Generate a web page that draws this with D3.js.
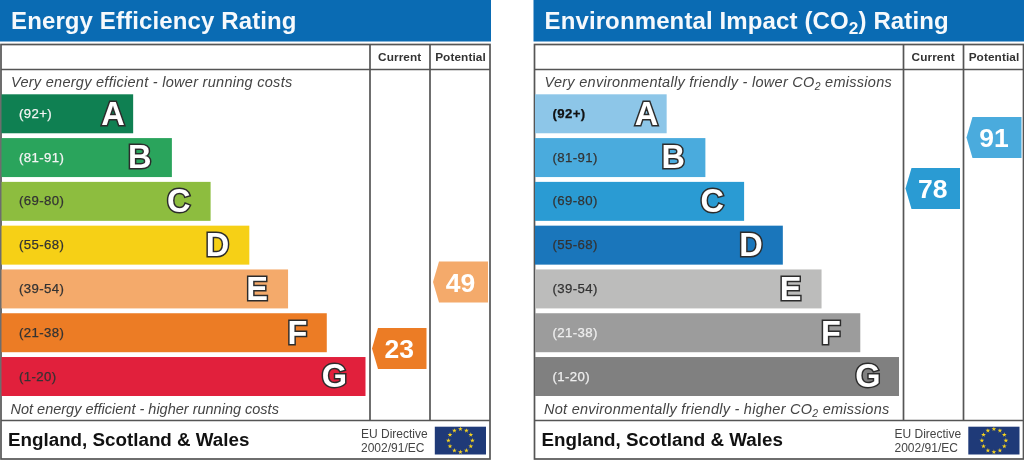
<!DOCTYPE html>
<html><head><meta charset="utf-8">
<script src="https://cdn.jsdelivr.net/npm/d3@7/dist/d3.min.js"></script>
<style>
html,body{margin:0;padding:0;background:#fff;overflow:hidden}
svg{display:block;filter:blur(0.35px)}
text{font-family:"Liberation Sans",Arial,sans-serif}
</style></head><body><svg id="c" width="1024" height="460"></svg>
<script>
const letters = ["A","B","C","D","E","F","G"];
const ranges = ["(92+)","(81-91)","(69-80)","(55-68)","(39-54)","(21-38)","(1-20)"];
const barLengths = [34,44,54,64,74,84,94];
const upperBounds = [91.5,80.5,68.5,54.5,38.5,20.5,0.5];
const energyColors = ["#0f8052","#2aa45c","#8dbd3f","#f6d016","#f4aa6b","#ec7c25","#e1203c"];
const envColors = ["#8dc6e8","#4aabdd","#2a9bd3","#1a76bb","#bcbcbb","#9c9c9c","#808080"];
const energyLabelColors = ["#f4f4f4","#f4f4f4","#333","#333","#333","#333","#333"];
const envLabelColors = ["#111","#333","#333","#333","#333","#eee","#eee"];
const energyScores = {current:23, potential:49};
const envScores = {current:78, potential:91};
const energyArrowColors = {current:"#ec7c25", potential:"#f4aa6b"};
const envArrowColors = {current:"#2a9bd3", potential:"#4aabdd"};
const columnLabels = ["Current","Potential"];
const footerText = "England, Scotland & Wales";
const directive = ["EU Directive","2002/91/EC"];

const svg = d3.select("#c");
const y = d3.scaleBand().domain(letters).range([94.3,396]).paddingInner(0.11);
const x = d3.scaleLinear().domain([0,94]).range([1.5,365.5]);
// A score sits within its band: 91.5 is the top of band B, and so on down.
const yScore = d3.scaleLinear().domain(upperBounds)
  .range(letters.map((l,i)=> i<6 ? y(letters[i+1]) : y("G")+y.step()));
const letterInset = [8.5,20.5,20,20,20,19.5,18.5];

function sub(sel, parts, size){
  parts.forEach(p=>{
    const t = sel.append("tspan").text(p.t);
    if(p.sub) t.attr("font-size",size*0.72).attr("dy",size*0.22);
    else if(p.after) t.attr("dy",-size*0.22);
  });
}

function panel(cfg){
  const g = svg.append("g").attr("transform",`translate(${cfg.dx},0)`);
  g.append("rect").attr("x",0).attr("y",0).attr("width",491).attr("height",41.5).attr("fill","#0a6bb3");
  const title = g.append("text").attr("x",11).attr("y",28.8).attr("font-size",24).attr("font-weight","bold").attr("fill","#f6f9fc").attr("letter-spacing",0.12);
  sub(title,cfg.title,24);
  const bx = g.append("g").attr("fill","none").attr("stroke","#555").attr("stroke-width",1.7);
  bx.append("rect").attr("x",1).attr("y",44.5).attr("width",489).attr("height",414.5);
  [[1,69.5,490,69.5],[1,420.5,490,420.5],[370,44.5,370,420.5],[430,44.5,430,420.5]].forEach(l=>
    bx.append("line").attr("x1",l[0]).attr("y1",l[1]).attr("x2",l[2]).attr("y2",l[3]));
  columnLabels.forEach((c,i)=>g.append("text").attr("x",i?460.5:399.7).attr("y",61).attr("text-anchor","middle").attr("font-size",11.8).attr("letter-spacing",0.1).attr("font-weight","bold").attr("fill","#333").text(c));
  const top = g.append("text").attr("x",11).attr("y",86.5).attr("font-size",14.5).attr("letter-spacing",0.28).attr("font-style","italic").attr("fill","#444");
  sub(top,cfg.top,14.5);
  const bot = g.append("text").attr("x",10.5).attr("y",413.5).attr("font-size",14.5).attr("letter-spacing",cfg.bottomSpacing).attr("font-style","italic").attr("fill","#444");
  sub(bot,cfg.bottom,14.5);

  const row = g.selectAll("g.row").data(letters).join("g").attr("class","row");
  row.append("rect").attr("x",x(0)).attr("y",d=>y(d)).attr("height",y.bandwidth())
     .attr("width",(d,i)=>x(barLengths[i])-x(0)).attr("fill",(d,i)=>cfg.colors[i]);
  row.append("text").attr("x",19).attr("y",d=>y(d)+y.bandwidth()/2+4).attr("font-size",13.2).attr("letter-spacing",0.4)
     .attr("font-weight",(d,i)=>(cfg.bold && i==0)?"bold":"normal")
     .attr("stroke",(d,i)=>cfg.labelColors[i]).attr("stroke-width",0.25)
     .attr("fill",(d,i)=>cfg.labelColors[i]).text((d,i)=>ranges[i]);
  row.append("text").attr("x",(d,i)=>x(barLengths[i])-letterInset[i]).attr("y",d=>y(d)+y.bandwidth()/2+10.8)
     .attr("text-anchor","end").attr("font-size",32.5).attr("font-weight","bold")
     .attr("fill","#fff").attr("stroke","#2c2c2c").attr("stroke-width",3).attr("paint-order","stroke").text(d=>d);

  [["current",372,426.5],["potential",433,488]].forEach(([k,l,r])=>{
    const v = cfg.scores[k], cy = yScore(v)-2.5, h=20.5, body=l+6;
    const ag = g.append("g");
    ag.append("path").attr("d",d3.line()([[l,cy],[body,cy-h],[r,cy-h],[r,cy+h],[body,cy+h]])+"Z").attr("fill",cfg.arrows[k]);
    ag.append("text").attr("x",(l+r)/2).attr("y",cy+9.5).attr("text-anchor","middle").attr("font-size",26.5).attr("font-weight","bold").attr("fill","#fff").text(v);
  });

  g.append("text").attr("x",8).attr("y",445.5).attr("font-size",18.8).attr("font-weight","bold").attr("fill","#111").text(footerText);
  directive.forEach((t,i)=>g.append("text").attr("x",361).attr("y",437.5+i*14.3).attr("font-size",12).attr("fill","#444").text(t));
  g.append("rect").attr("x",434.8).attr("y",426.7).attr("width",51.2).attr("height",27.8).attr("fill","#1f3a78");
  const star = d3.symbol().type(d3.symbolStar).size(7);
  g.selectAll("path.star").data(d3.range(12)).join("path").attr("class","star").attr("d",star)
    .attr("fill","#f5d21f").attr("transform",i=>{const a=i*Math.PI/6;return `translate(${460.4+12*Math.sin(a)},${440.6-11.5*Math.cos(a)})`;});
}

panel({dx:0,bottomSpacing:0,title:[{t:"Energy Efficiency Rating"}],
  top:[{t:"Very energy efficient - lower running costs"}],
  bottom:[{t:"Not energy efficient - higher running costs"}],
  colors:energyColors,labelColors:energyLabelColors,scores:energyScores,arrows:energyArrowColors});
panel({dx:533.5,bold:true,bottomSpacing:0.26,title:[{t:"Environmental Impact (CO"},{t:"2",sub:true},{t:") Rating",after:true}],
  top:[{t:"Very environmentally friendly - lower CO"},{t:"2",sub:true},{t:" emissions",after:true}],
  bottom:[{t:"Not environmentally friendly - higher CO"},{t:"2",sub:true},{t:" emissions",after:true}],
  colors:envColors,labelColors:envLabelColors,scores:envScores,arrows:envArrowColors});
</script></body></html>
